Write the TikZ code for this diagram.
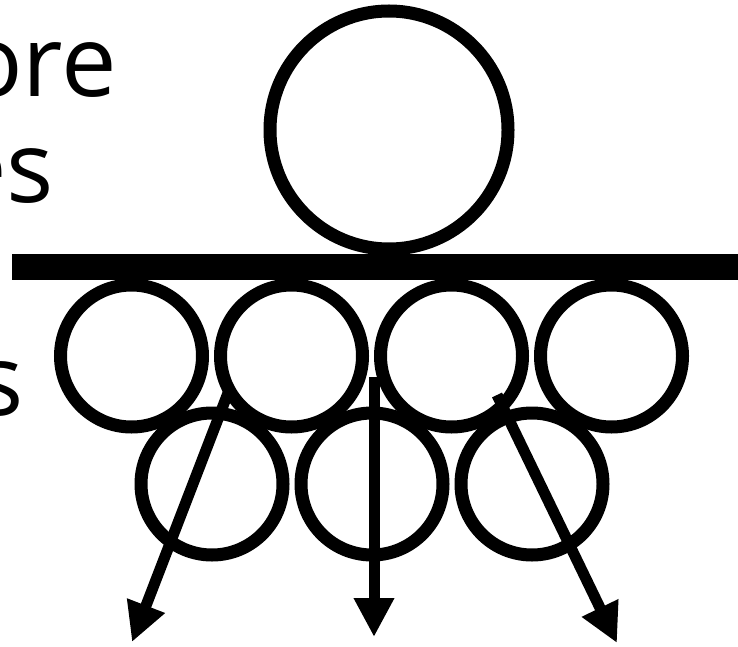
\documentclass[tikz,border=0pt]{standalone}
\usepackage{fontspec}
\setmainfont{Open Sans}
\usetikzlibrary{arrows.meta, positioning}

\begin{document}
\begin{tikzpicture}[x=1pt, y=-1pt, >={Triangle[length=39pt, width=38pt]},
    ball/.style={draw, circle, line width=13pt, minimum size=142pt, inner sep=0pt},
    bigball/.style={ball, minimum size=238pt},
    push/.style={->, line width=11pt},
    word/.style={anchor=base east, inner sep=0pt, font=\fontsize{99}{105}\selectfont}]
    \useasboundingbox (0,0) rectangle (738,647);
    % Text at the left edge
    \node[word] (w1) at (117,97) {ore};
    \node[word] (w2) at (54,202) {es};
    \node[word] (w3) at (24,415) {s};
    % Big roller
    \node[bigball] (big) at (389,130) {};
    % Bar
    \fill (12,254) rectangle (738,280);
    % Top row
    \foreach \i in {1,...,4} { \node[ball] (t\i) at (-28.5+160*\i,356) {}; }
    % Bottom row
    \foreach \i in {1,...,3} { \node[ball] (b\i) at (52+160*\i,484) {}; }
    % Forces
    \coordinate (f1s) at (228,393);
    \coordinate (f1e) at (132,642);
    \coordinate (f2s) at (374,377);
    \coordinate (f2e) at (374,637);
    \coordinate (f3s) at (497,395);
    \coordinate (f3e) at (617,643);
    \foreach \i in {1,2,3} { \draw[push] (f\i s) -- (f\i e); }
\end{tikzpicture}
\end{document}
